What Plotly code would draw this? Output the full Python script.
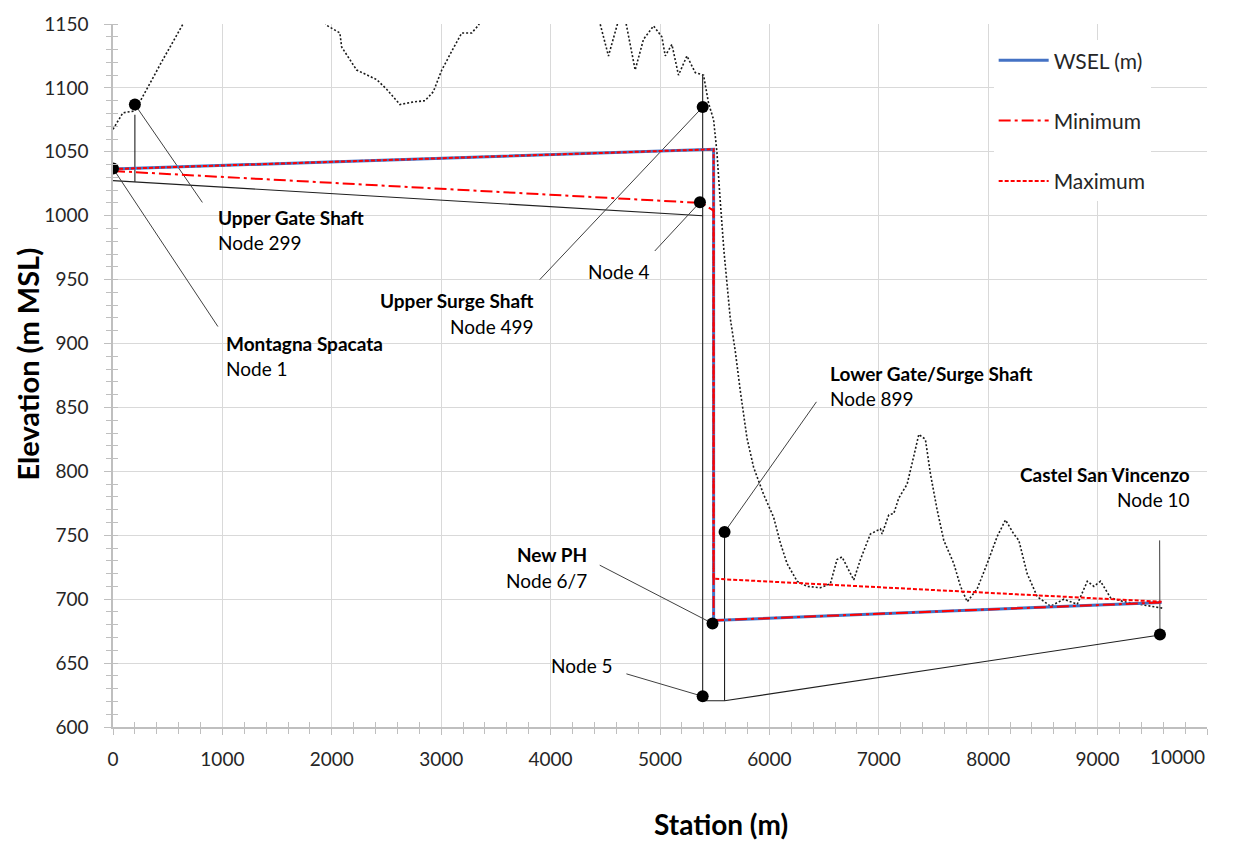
import plotly.graph_objects as go

# ---------------- data ----------------
terrain_station = [0, 90, 200, 305, 455, 640, 900, 1300, 1650, 1850, 1952, 2074, 2090, 2227, 2410, 2501,
                   2623, 2745, 2852, 2928, 3005, 3111, 3188, 3279, 3340, 3500, 3800, 4100, 4350, 4453,
                   4529, 4611, 4650, 4691, 4773, 4849, 4941, 5017, 5048, 5109, 5169, 5246, 5322, 5398,
                   5444, 5490, 5520, 5551, 5585, 5642, 5688, 5734, 5795, 5856, 5947, 6039, 6100, 6161,
                   6253, 6344, 6466, 6557, 6618, 6664, 6710, 6771, 6832, 6923, 7015, 7030, 7091, 7137,
                   7182, 7259, 7320, 7366, 7426, 7472, 7533, 7594, 7685, 7747, 7808, 7899, 7991, 8082,
                   8158, 8234, 8280, 8356, 8448, 8570, 8692, 8814, 8906, 8966, 9027, 9119, 9241, 9393,
                   9591]
terrain_elev = [1067.6, 1080.5, 1082, 1098.7, 1122, 1150, 1190, 1230, 1210, 1170, 1149, 1143, 1132, 1114,
                1106.5, 1099, 1087, 1089, 1090, 1097, 1114, 1131, 1143, 1143, 1149, 1175, 1200, 1190,
                1170, 1150, 1125, 1150, 1158, 1150, 1114, 1138, 1148.5, 1140, 1125, 1134, 1110, 1125,
                1112, 1110, 1088, 1075, 1050, 1011, 972, 920, 894, 863, 826, 803, 782, 764, 744, 728,
                714, 710, 709, 712, 731, 733, 725, 715, 731, 751, 755, 751, 766, 767, 779, 790, 812,
                829, 825, 798, 770, 746, 728, 710, 698, 708, 728, 749, 762, 751, 746, 720, 702, 694.5,
                700, 696, 714, 710, 714, 701, 698, 696, 693]

wsel_station = [0, 5490, 5490, 9585]
wsel_elev = [1036.5, 1052, 683.4, 697.4]

min_station = [0, 5380, 5490, 5490, 9585]
min_elev = [1035, 1010, 1004, 683.4, 697.4]

max_station = [0, 5490, 5490, 9585]
max_elev = [1036.5, 1052, 716, 698]

tunnel_station = [0, 5390, None, 200, 200, None, 5390, 5390, 5590, 9570, None, 5590, 5590]
tunnel_elev = [1027.5, 1000, None, 1026.5, 1079, None, 1110, 620.5, 620.5, 672, None, 620.5, 752]

node_station = [0, 200, 5365, 5390, 5390, 5480, 5590, 9570]
node_elev = [1037, 1087, 1010.5, 1085, 624, 681, 752.5, 672.3]

label_title = ["Montagna Spacata", "Upper Gate Shaft", "", "Upper Surge Shaft", "", "New PH",
               "Lower Gate/Surge Shaft", "Castel San Vincenzo"]
label_node = ["Node 1", "Node 299", "Node 4", "Node 499", "Node 5", "Node 6/7", "Node 899", "Node 10"]
label_x = [1015, 939, 4629, 3864, 4586, 4351, 6536, 9867]
label_y_title = [900.3, 998.9, None, 933.3, None, 734.9, 876.2, 797.4]
label_y_node = [880.8, 979.4, 956.6, 913.3, 648, 714.9, 856.7, 777.7]
label_anchor = ["left", "left", "center", "right", "right", "right", "left", "right"]

leader_tail_x = [959, 817, 4952, 3901, 4693, 4449, 6430, 9567]
leader_tail_y = [913.3, 1010.4, 972.4, 950, 641.6, 726.6, 854.4, 746]

x_ticks = list(range(0, 10001, 1000))
x_ticktext = [str(v) for v in x_ticks[:-1]] + [""]
x_last_label = "10000"
y_ticks = list(range(600, 1151, 50))

FONT = "Lato"
GRID = "#d9d9d9"
AXIS = "#bfbfbf"
TXT = "#262626"

fig = go.Figure()

fig.add_trace(go.Scatter(x=terrain_station, y=terrain_elev, mode="lines",
                         line=dict(color="#1a1a1a", width=1.6, dash="2px,2px"),
                         showlegend=False, hoverinfo="skip"))

fig.add_trace(go.Scatter(x=tunnel_station, y=tunnel_elev, mode="lines",
                         line=dict(color="#202020", width=1.1), connectgaps=False,
                         showlegend=False, hoverinfo="skip"))

lx, ly = [], []
for i in range(len(node_station)):
    lx += [leader_tail_x[i], node_station[i], None]
    ly += [leader_tail_y[i], node_elev[i], None]
fig.add_trace(go.Scatter(x=lx, y=ly, mode="lines", line=dict(color="#404040", width=1),
                         showlegend=False, hoverinfo="skip"))

fig.add_trace(go.Scatter(x=wsel_station, y=wsel_elev, mode="lines", name="WSEL (m)",
                         line=dict(color="#4472C4", width=3), legendgroup="a"))
fig.add_trace(go.Scatter(x=min_station, y=min_elev, mode="lines", name="Minimum",
                         line=dict(color="#FF0000", width=2, dash="12px,4px,3px,4px"), legendgroup="b"))
fig.add_trace(go.Scatter(x=max_station, y=max_elev, mode="lines", name="Maximum",
                         line=dict(color="#FF0000", width=2, dash="4px,2px"), legendgroup="c"))

fig.add_trace(go.Scatter(x=node_station, y=node_elev, mode="markers",
                         marker=dict(color="black", size=12), showlegend=False, hoverinfo="skip"))

# ghost axes for the inner half of the crossing tick marks
fig.add_trace(go.Scatter(x=[None], y=[None], xaxis="x2", yaxis="y2", showlegend=False, hoverinfo="skip"))

annotations = []
for i in range(len(label_node)):
    if label_title[i]:
        annotations.append(dict(x=label_x[i], y=label_y_title[i], xref="x", yref="y",
                                text="<b>" + label_title[i] + "</b>", showarrow=False,
                                xanchor=label_anchor[i], yanchor="middle",
                                font=dict(family=FONT, size=19, color="black")))
    annotations.append(dict(x=label_x[i], y=label_y_node[i], xref="x", yref="y",
                            text=label_node[i], showarrow=False,
                            xanchor=label_anchor[i], yanchor="middle",
                            font=dict(family=FONT, size=19, color="black")))

annotations.append(dict(x=x_ticks[-1], y=-0.0425, xref="x", yref="paper", text=x_last_label,
                        showarrow=False, xanchor="right", yanchor="middle",
                        font=dict(family=FONT, size=19, color=TXT)))
annotations.append(dict(x=0.5558, y=-0.1385, xref="paper", yref="paper", text="<b>Station (m)</b>",
                        showarrow=False, xanchor="center", yanchor="middle",
                        font=dict(family=FONT, size=28, color="black")))
annotations.append(dict(x=-0.0777, y=0.517, xref="paper", yref="paper", text="<b>Elevation (m MSL)</b>",
                        showarrow=False, xanchor="center", yanchor="middle", textangle=-90,
                        font=dict(family=FONT, size=29, color="black")))

fig.update_layout(
    width=1247, height=841,
    margin=dict(l=113, r=40, t=21, b=114),
    paper_bgcolor="white", plot_bgcolor="white",
    font=dict(family=FONT, color=TXT),
    xaxis=dict(range=[0, 10000], tickvals=x_ticks, ticktext=x_ticktext, showgrid=True, gridcolor=GRID,
               gridwidth=1, showline=True, linecolor=AXIS, linewidth=1.5, zeroline=False,
               ticks="outside", ticklen=6, tickcolor=AXIS, tickwidth=1.2,
               minor=dict(dtick=200, ticks="outside", ticklen=5, tickcolor=AXIS, showgrid=False),
               tickfont=dict(family=FONT, size=19, color=TXT), ticklabelstandoff=8, mirror=False),
    yaxis=dict(range=[600, 1150], tickvals=y_ticks, showgrid=True, gridcolor=GRID, gridwidth=1,
               showline=True, linecolor=AXIS, linewidth=1.5, zeroline=False,
               ticks="outside", ticklen=7, tickcolor=AXIS, tickwidth=1.2,
               minor=dict(dtick=10, ticks="outside", ticklen=5, tickcolor=AXIS, showgrid=False),
               tickfont=dict(family=FONT, size=19, color=TXT), ticklabelstandoff=12),
    xaxis2=dict(range=[0, 10000], overlaying="x", showgrid=False, showticklabels=False, zeroline=False,
                ticks="", minor=dict(dtick=200, ticks="inside", ticklen=5, tickcolor=AXIS),
                side="bottom", anchor="y2"),
    yaxis2=dict(range=[600, 1150], overlaying="y", showgrid=False, showticklabels=False, zeroline=False,
                ticks="", minor=dict(dtick=10, ticks="inside", ticklen=5, tickcolor=AXIS),
                side="left", anchor="x2"),
    legend=dict(x=0.805, y=0.977, xanchor="left", yanchor="top", bgcolor="white",
                font=dict(family=FONT, size=21, color=TXT), itemwidth=50, tracegroupgap=30,
                traceorder="grouped"),
    annotations=annotations,
)

fig.write_html("out.html", config={"displayModeBar": False},
               post_script="document.body.style.margin='0px';")
